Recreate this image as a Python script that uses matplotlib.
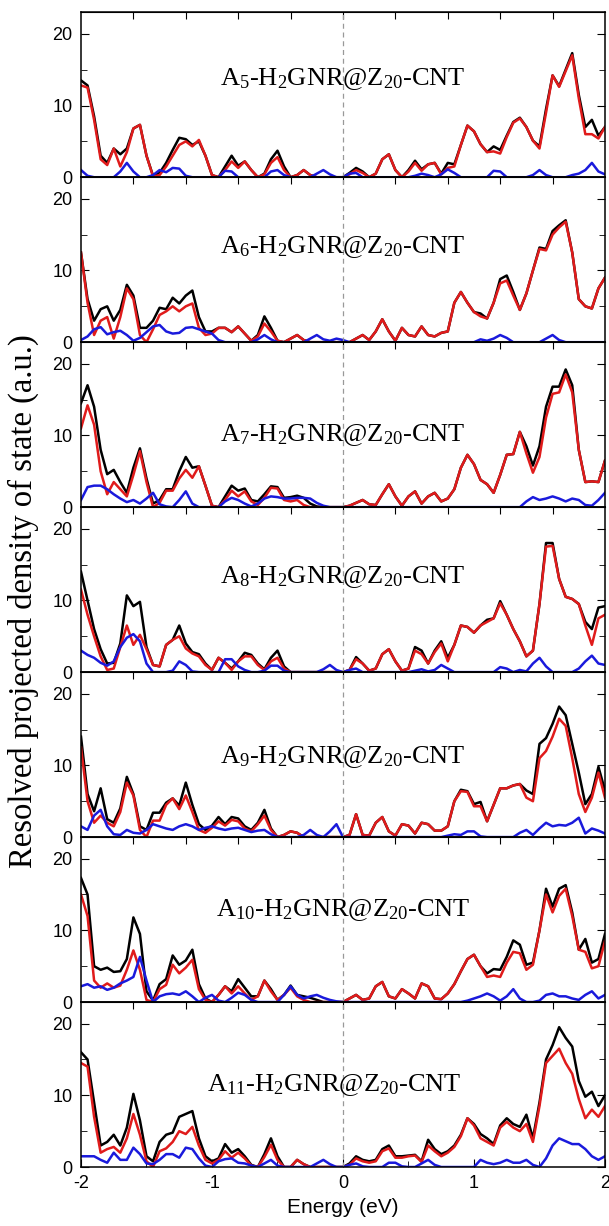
import numpy as np
import matplotlib
matplotlib.use('Agg')
import matplotlib.pyplot as plt
from matplotlib.ticker import MultipleLocator

# energy grid (eV), 0.05 eV step
energy = np.linspace(-2, 2, 81)

# A5 panel
black1 = [13.5, 12.8, 8.5, 3.0, 2.0, 4.0, 3.2, 4.0, 6.8, 7.3,
          3.0, 0.2, 0.6, 2.0, 3.8, 5.5, 5.3, 4.5, 5.0, 3.0,
          0.3, 0.0, 1.5, 3.0, 1.6, 2.2, 1.0, 0.0, 0.5, 2.5,
          3.7, 1.5, 0.0, 0.3, 1.0, 0.3, 0.0, 0.0, 0.0, 0.0,
          0.0, 0.6, 1.3, 0.8, 0.0, 0.5, 2.5, 3.2, 1.0, 0.0,
          1.0, 2.3, 1.1, 1.8, 2.0, 0.5, 2.0, 1.8, 4.5, 7.2,
          6.4, 4.6, 3.5, 4.3, 3.8, 5.8, 7.7, 8.3, 7.0, 5.1,
          4.3, 9.5, 14.2, 12.7, 15.0, 17.3, 11.5, 7.0, 8.0, 5.8,
          7.0]
red1 = [12.8, 12.5, 8.0, 2.5, 1.7, 4.0, 1.5, 3.5, 6.8, 7.3,
        3.0, 0.1, 0.3, 1.5, 3.0, 4.5, 5.0, 4.3, 5.2, 3.0,
        0.3, 0.0, 1.0, 2.2, 1.3, 2.2, 1.0, 0.0, 0.4, 2.0,
        2.8, 1.0, 0.0, 0.3, 1.0, 0.3, 0.0, 0.0, 0.0, 0.0,
        0.0, 0.4, 1.0, 0.6, 0.0, 0.5, 2.5, 3.2, 1.0, 0.0,
        0.8, 2.0, 0.9, 1.8, 2.0, 0.4, 1.3, 1.5, 4.5, 7.2,
        6.4, 4.6, 3.5, 3.6, 3.3, 5.6, 7.6, 8.2, 7.0, 5.1,
        4.0, 9.0, 14.2, 12.6, 14.8, 17.0, 11.0, 6.0, 6.0, 5.4,
        7.0]
blue1 = [1.0, 0.2, 0.0, 0.0, 0.0, 0.0, 0.8, 2.0, 0.8, 0.0,
         0.0, 0.3, 1.0, 0.7, 1.3, 1.2, 0.2, 0.0, 0.0, 0.0,
         0.0, 0.0, 0.9, 0.8, 0.0, 0.0, 0.0, 0.0, 0.0, 0.8,
         1.0, 0.3, 0.0, 0.0, 0.0, 0.0, 0.5, 1.0, 0.4, 0.0,
         0.0, 0.5, 0.6, 0.0, 0.0, 0.0, 0.0, 0.0, 0.0, 0.0,
         0.0, 0.2, 0.5, 0.3, 0.0, 0.4, 1.1, 0.6, 0.0, 0.0,
         0.0, 0.0, 0.0, 0.9, 0.8, 0.0, 0.0, 0.0, 0.0, 0.3,
         1.0, 0.3, 0.0, 0.0, 0.0, 0.3, 0.5, 1.0, 2.0, 0.8,
         0.4]

# A6 panel
black2 = [12.5, 6.0, 3.0, 4.6, 5.0, 3.0, 4.5, 8.0, 6.5, 2.0,
          2.0, 3.0, 4.8, 4.6, 6.2, 5.4, 6.5, 7.2, 3.5, 1.5,
          1.5, 2.0, 2.0, 1.4, 2.2, 1.2, 0.2, 1.0, 3.6, 2.0,
          0.2, 0.0, 0.5, 1.0, 0.3, 0.0, 0.0, 0.0, 0.0, 0.0,
          0.0, 0.0, 0.5, 1.0, 0.3, 1.5, 3.2, 1.5, 0.2, 2.0,
          1.0, 0.8, 2.2, 1.0, 0.8, 1.3, 1.5, 5.5, 7.0, 5.5,
          4.2, 4.0, 3.3, 5.5, 8.8, 9.3, 7.0, 4.5, 6.8, 10.0,
          13.2, 13.0, 15.5, 16.3, 17.0, 12.5, 6.0, 5.0, 4.7, 7.5,
          9.0]
red2 = [12.5, 5.5, 1.0, 3.0, 3.5, 0.5, 3.5, 7.5, 6.0, 1.0,
        0.0, 1.8, 3.8, 4.3, 5.0, 4.3, 5.0, 5.4, 2.0, 1.0,
        1.2, 2.0, 2.0, 1.4, 2.2, 1.2, 0.2, 0.8, 2.6, 1.5,
        0.2, 0.0, 0.5, 1.0, 0.3, 0.0, 0.0, 0.0, 0.0, 0.0,
        0.0, 0.0, 0.5, 1.0, 0.3, 1.5, 3.2, 1.5, 0.2, 2.0,
        1.0, 0.8, 2.2, 1.0, 0.8, 1.3, 1.5, 5.5, 7.0, 5.5,
        4.2, 3.6, 3.3, 5.5, 8.2, 8.6, 6.5, 4.5, 6.8, 10.0,
        13.0, 12.8, 15.0, 16.0, 16.8, 12.5, 6.0, 5.0, 4.7, 7.5,
        9.0]
blue2 = [0.3, 0.8, 1.8, 2.1, 1.1, 1.4, 1.6, 1.0, 0.2, 0.6,
         1.4, 2.2, 2.4, 1.5, 1.2, 1.3, 2.0, 2.1, 1.8, 1.5,
         1.2, 0.3, 0.0, 0.0, 0.0, 0.0, 0.0, 0.4, 1.0, 0.4,
         0.0, 0.0, 0.0, 0.0, 0.0, 0.5, 1.0, 0.4, 0.2, 0.5,
         0.3, 0.0, 0.0, 0.0, 0.0, 0.0, 0.0, 0.0, 0.0, 0.0,
         0.0, 0.0, 0.0, 0.0, 0.0, 0.0, 0.0, 0.0, 0.0, 0.0,
         0.0, 0.4, 0.2, 0.5, 1.0, 0.6, 0.0, 0.0, 0.0, 0.0,
         0.0, 0.5, 1.0, 0.3, 0.0, 0.0, 0.0, 0.0, 0.0, 0.0,
         0.0]

# A7 panel
black3 = [14.5, 17.0, 14.0, 8.0, 4.6, 5.2, 3.5, 2.0, 5.5, 8.2,
          4.0, 0.5, 1.0, 2.5, 2.5, 5.0, 7.0, 5.5, 5.7, 3.0,
          0.2, 0.0, 1.5, 3.0, 2.3, 2.6, 1.0, 0.8, 1.8, 2.9,
          2.8, 1.3, 1.4, 1.6, 1.3, 0.5, 0.1, 0.0, 0.0, 0.0,
          0.0, 0.2, 0.6, 1.0, 0.4, 0.3, 1.8, 3.2, 1.5, 0.2,
          1.5, 2.2, 0.5, 1.5, 2.0, 0.8, 1.2, 2.5, 5.5, 7.3,
          6.0, 3.8, 3.2, 2.0, 4.5, 7.3, 7.4, 10.5, 8.5, 5.8,
          8.5, 14.0, 16.8, 16.8, 19.2, 17.0, 8.0, 3.5, 3.6, 3.5,
          6.5]
red3 = [11.0, 14.2, 11.5, 5.0, 1.8, 3.5, 2.5, 1.5, 4.5, 7.8,
        3.5, 0.0, 0.6, 2.3, 2.3, 4.0, 5.2, 4.1, 5.7, 3.0,
        0.2, 0.0, 1.0, 2.3, 1.5, 2.2, 0.8, 0.3, 1.3, 2.7,
        2.6, 1.0, 0.8, 1.0, 0.3, 0.0, 0.0, 0.0, 0.0, 0.0,
        0.0, 0.2, 0.6, 1.0, 0.4, 0.3, 1.8, 3.2, 1.5, 0.2,
        1.5, 2.2, 0.5, 1.5, 2.0, 0.8, 1.2, 2.5, 5.5, 7.3,
        6.0, 3.8, 3.2, 2.0, 4.5, 7.3, 7.4, 10.5, 7.5, 4.8,
        7.0, 12.5, 15.8, 16.0, 18.5, 16.0, 8.0, 3.5, 3.6, 3.5,
        6.5]
blue3 = [1.0, 2.8, 3.0, 3.0, 2.5, 1.8, 1.2, 0.7, 1.0, 0.5,
         1.2, 2.0, 0.4, 0.1, 0.0, 1.0, 2.2, 0.5, 0.0, 0.0,
         0.0, 0.0, 0.8, 1.3, 1.0, 0.5, 0.1, 0.5, 1.2, 1.5,
         1.4, 1.2, 1.2, 1.3, 1.3, 1.2, 0.6, 0.2, 0.0, 0.0,
         0.0, 0.0, 0.0, 0.0, 0.0, 0.0, 0.0, 0.0, 0.0, 0.0,
         0.0, 0.0, 0.0, 0.0, 0.0, 0.0, 0.0, 0.0, 0.0, 0.0,
         0.0, 0.0, 0.0, 0.0, 0.0, 0.0, 0.0, 0.0, 0.8, 1.4,
         1.0, 1.2, 1.5, 1.2, 0.8, 1.2, 1.0, 0.3, 0.2, 1.0,
         2.0]

# A8 panel
black4 = [14.0, 10.0, 6.0, 3.2, 1.2, 1.3, 4.0, 10.7, 9.2, 9.8,
          3.5, 1.0, 0.8, 3.8, 4.5, 6.5, 4.0, 2.8, 2.5, 1.2,
          0.3, 2.0, 1.3, 0.5, 1.5, 2.7, 2.4, 1.2, 0.4, 2.0,
          3.0, 0.8, 0.0, 0.0, 0.0, 0.0, 0.0, 0.0, 0.0, 0.0,
          0.0, 0.3, 2.1, 1.2, 0.2, 0.5, 2.5, 3.2, 1.5, 0.2,
          0.5, 3.5, 3.0, 1.2, 3.0, 4.3, 2.0, 3.8, 6.5, 6.3,
          5.5, 6.5, 7.3, 7.5, 9.9, 8.0, 6.0, 4.3, 2.2, 3.0,
          9.5, 18.0, 18.0, 13.0, 10.5, 10.2, 9.5, 7.0, 6.0, 9.0,
          9.2]
red4 = [11.5, 8.0, 5.0, 2.2, 0.3, 0.5, 3.5, 6.5, 3.8, 5.2,
        3.2, 1.0, 0.8, 3.8, 4.5, 5.0, 3.3, 2.6, 2.2, 1.0,
        0.3, 2.0, 1.3, 0.3, 1.5, 2.2, 2.2, 1.0, 0.3, 1.5,
        2.0, 0.5, 0.0, 0.0, 0.0, 0.0, 0.0, 0.0, 0.0, 0.0,
        0.0, 0.3, 1.8, 1.2, 0.2, 0.5, 2.5, 3.2, 1.5, 0.2,
        0.5, 3.0, 2.5, 1.2, 2.8, 4.0, 1.5, 3.8, 6.5, 6.3,
        5.5, 6.5, 7.0, 7.5, 9.6, 8.0, 6.0, 4.3, 2.2, 3.0,
        9.5, 17.5, 17.6, 13.0, 10.5, 10.2, 9.5, 6.5, 3.8, 7.5,
        8.0]
blue4 = [3.0, 2.4, 2.0, 1.3, 0.9, 1.5, 3.5, 4.8, 5.3, 4.3,
         1.2, 0.0, 0.0, 0.0, 0.2, 1.5, 1.0, 0.1, 0.0, 0.0,
         0.0, 0.0, 1.8, 1.8, 0.8, 0.3, 0.0, 0.0, 0.2, 0.9,
         0.9, 0.2, 0.0, 0.0, 0.0, 0.0, 0.0, 0.4, 1.0, 0.3,
         0.0, 0.3, 0.5, 0.0, 0.0, 0.0, 0.0, 0.0, 0.0, 0.0,
         0.0, 0.2, 0.4, 0.1, 0.3, 1.0, 0.5, 0.0, 0.0, 0.0,
         0.0, 0.0, 0.0, 0.0, 0.7, 0.5, 0.0, 0.3, 0.1, 1.2,
         2.0, 0.8, 0.0, 0.0, 0.0, 0.0, 0.5, 1.5, 2.3, 1.2,
         1.0]

# A9 panel
black5 = [14.0, 6.0, 3.6, 6.8, 2.5, 2.0, 4.0, 8.4, 6.0, 1.5,
          1.0, 3.4, 3.4, 4.8, 5.4, 4.4, 7.6, 4.5, 1.8, 1.0,
          1.6, 2.8, 1.8, 2.8, 2.6, 1.5, 1.0, 2.0, 3.8, 1.2,
          0.0, 0.3, 0.8, 0.6, 0.0, 0.0, 0.0, 0.0, 0.0, 0.0,
          0.0, 0.3, 3.2, 0.3, 0.2, 2.0, 2.8, 0.8, 0.2, 1.8,
          1.6, 0.5, 2.0, 1.8, 0.9, 0.9, 1.5, 5.0, 6.6, 6.4,
          4.6, 4.9, 2.2, 4.5, 6.8, 6.8, 7.2, 7.4, 6.5, 6.0,
          13.0, 13.8, 15.8, 18.2, 17.0, 13.0, 9.0, 4.6, 6.0, 9.8,
          6.5]
red5 = [12.5, 5.0, 2.0, 3.0, 2.0, 1.5, 3.5, 7.6, 5.8, 1.0,
        0.0, 2.3, 2.3, 4.5, 5.4, 3.9, 5.8, 3.5, 1.0, 0.6,
        1.3, 2.2, 1.6, 2.4, 2.2, 1.2, 0.8, 1.8, 3.0, 1.0,
        0.0, 0.3, 0.8, 0.6, 0.0, 0.0, 0.0, 0.0, 0.0, 0.0,
        0.0, 0.3, 3.2, 0.3, 0.2, 2.0, 2.8, 0.8, 0.2, 1.8,
        1.6, 0.5, 2.0, 1.8, 0.9, 0.9, 1.5, 5.0, 6.4, 6.3,
        4.3, 4.3, 2.2, 4.5, 6.8, 6.8, 7.2, 7.4, 5.5, 5.0,
        11.0, 12.0, 14.0, 16.5, 15.5, 11.0, 6.0, 3.5, 5.5, 9.0,
        5.5]
blue5 = [1.5, 1.0, 3.0, 3.8, 1.5, 0.4, 0.3, 1.0, 0.6, 0.5,
         1.0, 1.8, 1.5, 1.2, 1.0, 1.5, 1.8, 1.5, 1.0, 1.3,
         1.5, 1.2, 1.0, 1.2, 1.3, 1.0, 0.7, 0.9, 1.0, 0.4,
         0.0, 0.0, 0.0, 0.0, 0.3, 1.0, 0.3, 0.0, 0.8, 1.8,
         0.0, 0.0, 0.0, 0.0, 0.0, 0.0, 0.0, 0.0, 0.0, 0.0,
         0.0, 0.0, 0.0, 0.0, 0.0, 0.0, 0.2, 0.4, 0.3, 0.8,
         0.8, 0.1, 0.0, 0.0, 0.0, 0.0, 0.0, 0.6, 1.0, 0.3,
         1.2, 2.0, 1.5, 1.7, 1.6, 2.0, 2.7, 0.5, 1.2, 0.9,
         0.5]

# A10 panel
black6 = [17.3, 15.0, 5.0, 4.5, 4.8, 4.2, 4.3, 6.0, 11.8, 9.5,
          1.5, 0.2, 2.5, 3.2, 6.5, 5.2, 5.8, 7.3, 2.5, 0.5,
          0.0, 1.0, 2.2, 1.5, 3.2, 2.0, 0.8, 0.8, 3.0, 1.8,
          0.3, 1.0, 2.3, 1.0, 0.8, 0.6, 0.3, 0.0, 0.0, 0.0,
          0.0, 0.5, 1.0, 0.3, 0.5, 2.2, 2.8, 0.8, 0.5, 1.8,
          1.2, 0.5, 2.6, 2.2, 0.5, 0.4, 1.2, 2.5, 4.3, 6.0,
          6.6, 5.0, 4.0, 4.6, 4.5, 6.3, 8.6, 8.0, 5.2, 5.5,
          10.0, 15.8, 13.3, 15.8, 16.3, 12.5, 7.3, 8.8, 5.5, 6.0,
          9.5]
red6 = [15.0, 12.0, 3.0, 2.0, 2.6, 2.0, 2.3, 4.5, 7.2, 4.5,
        0.3, 0.0, 1.8, 2.4, 5.2, 4.0, 4.8, 5.9, 1.8, 0.3,
        0.0, 1.0, 2.2, 1.2, 2.2, 1.2, 0.3, 0.8, 3.0, 1.5,
        0.3, 1.0, 2.0, 0.8, 0.3, 0.0, 0.0, 0.0, 0.0, 0.0,
        0.0, 0.5, 1.0, 0.3, 0.5, 2.2, 2.8, 0.8, 0.5, 1.8,
        1.2, 0.5, 2.6, 2.2, 0.5, 0.4, 1.2, 2.5, 4.3, 6.0,
        6.6, 5.0, 3.5, 3.7, 3.5, 5.5, 7.0, 6.8, 4.5, 5.2,
        10.0, 15.0, 12.5, 14.8, 15.8, 12.0, 7.3, 7.0, 4.7, 5.0,
        8.5]
blue6 = [2.2, 2.5, 2.0, 2.2, 1.7, 2.0, 2.6, 3.0, 3.5, 6.3,
         3.0, 0.0, 0.8, 1.1, 1.2, 1.0, 1.5, 0.8, 0.0, 0.6,
         1.0, 0.2, 0.0, 0.6, 1.3, 1.0, 0.3, 0.0, 0.0, 0.0,
         0.0, 1.0, 2.2, 1.0, 0.5, 0.8, 1.0, 0.6, 0.3, 0.1,
         0.0, 0.0, 0.0, 0.0, 0.0, 0.0, 0.0, 0.0, 0.0, 0.0,
         0.0, 0.0, 0.0, 0.0, 0.0, 0.0, 0.0, 0.0, 0.0, 0.2,
         0.5, 0.8, 1.2, 0.8, 0.2, 0.8, 1.8, 0.5, 0.0, 0.0,
         0.2, 1.0, 1.2, 0.8, 0.8, 0.5, 0.3, 1.0, 1.5, 0.5,
         1.0]

# A11 panel
black7 = [16.0, 15.0, 9.0, 3.0, 3.5, 4.5, 3.0, 5.5, 10.2, 6.5,
          1.5, 0.8, 3.5, 4.5, 4.8, 7.0, 7.4, 7.8, 4.0, 1.5,
          0.8, 1.2, 3.2, 2.0, 2.5, 1.5, 0.3, 0.0, 1.8, 4.0,
          1.5, 0.0, 0.0, 1.0, 0.4, 0.0, 0.0, 0.0, 0.0, 0.0,
          0.0, 0.5, 1.5, 1.0, 0.8, 1.0, 2.5, 3.0, 1.5, 1.5,
          1.6, 1.7, 0.8, 3.8, 2.5, 1.8, 2.2, 3.0, 4.5, 6.8,
          6.0, 4.6, 4.0, 3.2, 5.8, 6.8, 6.0, 5.6, 7.3, 4.0,
          9.0, 15.0, 17.0, 19.5, 18.0, 16.8, 12.0, 9.8, 10.5, 8.5,
          10.0]
red7 = [14.5, 14.0, 7.0, 2.0, 2.5, 2.8, 2.0, 4.0, 7.4, 4.5,
        0.8, 0.0, 2.2, 2.6, 3.5, 5.0, 4.6, 5.6, 3.0, 1.0,
        0.5, 1.0, 2.2, 1.3, 2.0, 1.2, 0.2, 0.0, 1.4, 3.1,
        1.0, 0.0, 0.0, 1.0, 0.4, 0.0, 0.0, 0.0, 0.0, 0.0,
        0.0, 0.3, 1.2, 0.8, 0.6, 0.8, 2.2, 2.6, 1.3, 1.3,
        1.5, 1.6, 0.7, 3.0, 2.2, 1.5, 2.0, 2.8, 4.3, 6.8,
        5.8, 4.0, 3.5, 3.0, 5.5, 6.3, 5.5, 5.0, 6.0, 3.5,
        8.5, 14.5, 15.5, 16.5, 14.5, 13.0, 9.5, 6.8, 8.0, 7.0,
        8.5]
blue7 = [1.5, 1.5, 1.5, 1.0, 0.6, 2.0, 1.0, 1.0, 2.7, 1.8,
         0.5, 0.4, 1.0, 1.8, 1.8, 1.3, 2.7, 2.5, 1.2, 0.2,
         0.0, 0.8, 1.1, 1.2, 0.6, 0.5, 0.2, 0.0, 0.5, 1.0,
         0.2, 0.0, 0.0, 0.0, 0.0, 0.0, 0.5, 1.0, 0.4, 0.0,
         0.0, 0.3, 0.5, 0.1, 0.0, 0.0, 0.0, 0.6, 0.6, 0.1,
         0.0, 0.0, 0.5, 1.0, 0.3, 0.0, 0.0, 0.0, 0.0, 0.0,
         0.0, 1.0, 0.6, 0.4, 0.6, 1.0, 0.6, 0.6, 1.0, 0.3,
         0.0, 1.2, 3.0, 4.0, 3.6, 3.2, 3.2, 2.5, 1.5, 1.0,
         1.5]

ribbons = ['5', '6', '7', '8', '9', '10', '11']
blacks = [black1, black2, black3, black4, black5, black6, black7]
reds = [red1, red2, red3, red4, red5, red6, red7]
blues = [blue1, blue2, blue3, blue4, blue5, blue6, blue7]

# where the panel titles sit (energy, DOS)
title_pos = [(0.0, 13.7), (0.0, 13.3), (0.0, 10.1), (0.0, 13.3),
             (0.0, 11.1), (0.0, 12.9), (-0.07, 11.4)]

plt.rcParams['font.family'] = 'Liberation Sans'
plt.rcParams['mathtext.fontset'] = 'custom'
plt.rcParams['mathtext.rm'] = 'Liberation Serif'

fig, axes = plt.subplots(7, 1, figsize=(6.09, 12.26), dpi=100, sharex=True)
fig.subplots_adjust(left=0.133, right=0.9934, top=0.990, bottom=0.0481, hspace=0)

for k, ax in enumerate(axes):
    assert len(blacks[k]) == len(reds[k]) == len(blues[k]) == len(energy)
    ax.plot(energy, blacks[k], color='black', lw=1.8, solid_joinstyle='round')
    ax.plot(energy, reds[k], color='#e01b1b', lw=1.8, solid_joinstyle='round')
    ax.plot(energy, blues[k], color='#1a1adc', lw=1.8, solid_joinstyle='round')
    ax.axvline(0, color='#999999', lw=0.9, ls=(0, (4, 3)))

    ax.set_xlim(-2, 2)
    ax.set_ylim(0, 23)
    ax.set_yticks([0, 10, 20])
    ax.yaxis.set_minor_locator(MultipleLocator(5))
    ax.xaxis.set_major_locator(MultipleLocator(1))
    ax.xaxis.set_minor_locator(MultipleLocator(0.5))
    ax.tick_params(axis='y', which='both', direction='in', left=True, right=True,
                   labelsize=13, pad=6)
    ax.tick_params(axis='y', which='major', length=6)
    ax.tick_params(axis='y', which='minor', length=4)
    ax.tick_params(axis='x', which='both', direction='in', top=False, labelsize=13, pad=6)
    ax.tick_params(axis='x', which='major', length=6)
    ax.tick_params(axis='x', which='minor', length=4)
    if k < len(axes) - 1:
        ax.tick_params(axis='x', which='both', bottom=False)
    for sp in ax.spines.values():
        sp.set_linewidth(1.1)

    # top axis has its own ticks every 0.4 eV
    top = ax.secondary_xaxis('top')
    top.set_xticks(np.arange(-1.6, 1.7, 0.4))
    top.tick_params(direction='in', length=5, labeltop=False)

    name = (r'A$\mathregular{_{' + ribbons[k] + r'}}$-H$\mathregular{_2}$'
            r'GNR@Z$\mathregular{_{20}}$-CNT')
    ax.text(title_pos[k][0], title_pos[k][1], name, ha='center', va='center',
            fontsize=19, family='Liberation Serif')

axes[-1].set_xticks([-2, -1, 0, 1, 2])
axes[-1].set_xticklabels(['-2', '-1', '0', '1', '2'])
axes[-1].set_xlabel('Energy (eV)', fontsize=15, labelpad=4)

fig.text(0.038, 0.51, 'Resolved projected density of state (a.u.)', rotation=90,
         ha='center', va='center', fontsize=23.5, family='Liberation Serif')

fig.savefig('out.png', dpi=100)
